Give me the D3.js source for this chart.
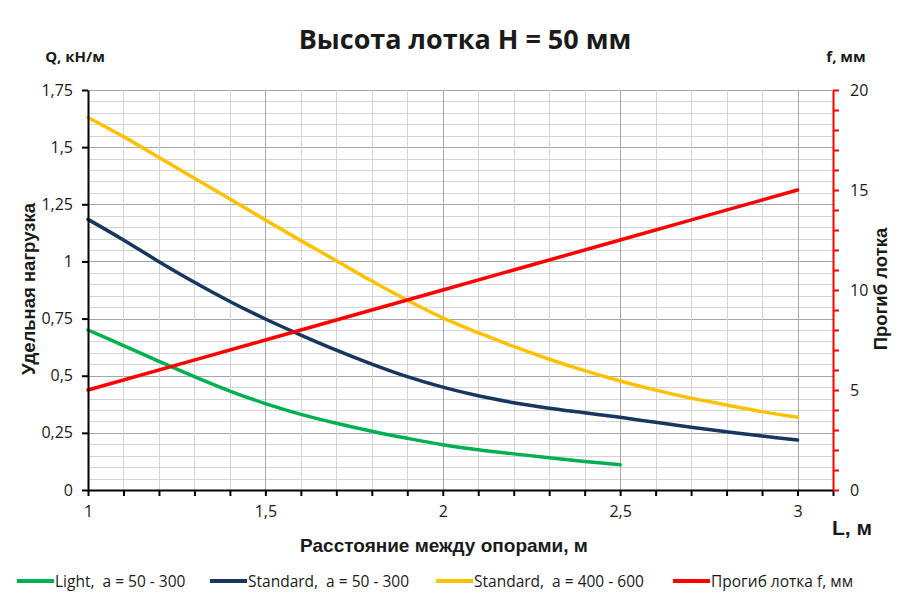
<!DOCTYPE html>
<html lang="ru">
<meta charset="utf-8" />
<style>
    body { margin: 0; background: #fff; }
    text { font-family: "Open Sans", "Liberation Sans", sans-serif; fill: #1a1a1a; }
    .bold { font-family: "Liberation Sans", Arial, sans-serif; font-weight: bold; }
    .grid line { stroke: #d4d4d4; stroke-width: 1px; }
    .grid line.major { stroke: #a6a6a6; }
    .axis path, .axis line { stroke: #000; stroke-width: 2px; }
    .axis.red path, .axis.red line { stroke: #ff0000; }
    .axis text { font-size: 16px; fill: #1a1a1a; font-family: "Open Sans", sans-serif; }
</style>
<body>
<svg width="900" height="604"></svg>
<script src="https://d3js.org/d3.v7.min.js"></script>
<script>
    // span between supports, m
    var spans = [1, 1.1, 1.2, 1.3, 1.4, 1.5, 1.6, 1.7, 1.8, 1.9, 2, 2.1, 2.2, 2.3, 2.4, 2.5, 2.6, 2.7, 2.8, 2.9, 3]
    // load Q, kN/m
    var lightQ = [0.70, 0.632, 0.563, 0.496, 0.433, 0.378, 0.331, 0.292, 0.257, 0.226, 0.198, 0.176, 0.158, 0.141, 0.125, 0.110]
    var std300Q = [1.184, 1.094, 0.999, 0.909, 0.825, 0.748, 0.678, 0.612, 0.551, 0.496, 0.450, 0.412, 0.382, 0.358, 0.338, 0.318, 0.296, 0.275, 0.255, 0.236, 0.219]
    var std600Q = [1.63, 1.546, 1.455, 1.364, 1.273, 1.181, 1.091, 1.003, 0.914, 0.830, 0.753, 0.688, 0.628, 0.572, 0.522, 0.477, 0.437, 0.402, 0.372, 0.343, 0.318]
    // deflection f, mm
    var deflSpans = [1, 1.5, 2, 2.5, 3]
    var deflF = [5, 7.5, 10, 12.5, 15]

    var legendNames = ["Light,  a = 50 - 300", "Standard,  a = 50 - 300", "Standard,  a = 400 - 600", "Прогиб лотка f, мм"]

    var svg = d3.select("svg")
    var pLeft = 88, pRight = 833, pTop = 90, pBottom = 490

    var x = d3.scaleLinear().domain([1, 3.1]).range([pLeft, pRight])
    var y = d3.scaleLinear().domain([0, 1.75]).range([pBottom, pTop])
    var yR = d3.scaleLinear().domain([0, 20]).range([pBottom, pTop])

    var comma = d => String(d).replace(".", ",")

    // grid
    var grid = svg.append("g").attr("class", "grid")
    var hVals = d3.range(1, 36).map(d => d * 0.05)
    grid.selectAll("line.h")
        .data(hVals)
        .enter()
        .append("line")
        .attr("class", (d, i) => (i + 1) % 5 == 0 ? "h major" : "h")
        .attr("x1", pLeft).attr("x2", pRight)
        .attr("y1", d => Math.round(y(d)) + 0.5)
        .attr("y2", d => Math.round(y(d)) + 0.5)
    var vVals = d3.range(11, 31).map(d => d / 10)
    grid.selectAll("line.v")
        .data(vVals)
        .enter()
        .append("line")
        .attr("class", (d, i) => (i + 11) % 5 == 0 ? "v major" : "v")
        .attr("y1", pTop).attr("y2", pBottom)
        .attr("x1", d => Math.round(x(d)) + 0.5)
        .attr("x2", d => Math.round(x(d)) + 0.5)

    // series
    var line = d3.line()
        .x(d => x(d[0]))
        .y(d => d[2](d[1]))
        .curve(d3.curveCatmullRom.alpha(0.5))

    var series = [
        { vals: lightQ, xs: spans, sc: y, color: "#00b050" },
        { vals: std300Q, xs: spans, sc: y, color: "#17375e" },
        { vals: std600Q, xs: spans, sc: y, color: "#ffc000" },
        { vals: deflF, xs: deflSpans, sc: yR, color: "#ff0000" }
    ]

    series.forEach(function(s) {
        svg.append("path")
            .attr("d", line(s.vals.map((v, i) => [s.xs[i], v, s.sc])))
            .attr("fill", "none")
            .attr("stroke", s.color)
            .attr("stroke-width", 3.5)
            .attr("stroke-linecap", "round")
    })

    // axes
    svg.append("g")
        .attr("class", "axis")
        .attr("transform", "translate(" + pLeft + ",0)")
        .call(d3.axisLeft(y).tickValues(d3.range(0, 8).map(d => d * 0.25)).tickFormat(comma).tickSize(6).tickSizeOuter(0).tickPadding(9))

    svg.append("g")
        .attr("class", "axis")
        .attr("transform", "translate(0," + pBottom + ")")
        .call(d3.axisBottom(x).tickValues(d3.range(10, 32).map(d => d / 10))
            .tickFormat(d => Math.round(d * 10) % 5 == 0 ? comma(d) : "")
            .tickSize(6).tickSizeOuter(0).tickPadding(10))

    svg.append("g")
        .attr("class", "axis red")
        .attr("transform", "translate(" + pRight + ",0)")
        .call(d3.axisRight(yR).tickValues(d3.range(0, 21)).tickFormat(d => d % 5 == 0 ? d : "").tickSize(6).tickSizeOuter(0).tickPadding(11))

    svg.selectAll(".axis .domain").attr("fill", "none")

    // titles
    svg.append("text")
        .attr("class", "bold")
        .attr("x", 465).attr("y", 49)
        .attr("text-anchor", "middle")
        .style("font-size", "27px")
        .style("font-family", "'Open Sans', sans-serif")
        .text("Высота лотка Н = 50 мм")

    svg.append("text")
        .attr("x", 75).attr("y", 62)
        .attr("text-anchor", "middle")
        .style("font-size", "15px")
        .style("font-weight", "bold")
        .text("Q, кН/м")

    svg.append("text")
        .attr("x", 846).attr("y", 62)
        .attr("text-anchor", "middle")
        .style("font-size", "15px")
        .style("font-weight", "bold")
        .text("f, мм")

    svg.append("text")
        .attr("class", "bold")
        .attr("transform", "translate(35,289) rotate(-90)")
        .attr("text-anchor", "middle")
        .style("font-size", "18.5px")
        .text("Удельная нагрузка")

    svg.append("text")
        .attr("class", "bold")
        .attr("transform", "translate(887,289) rotate(-90)")
        .attr("text-anchor", "middle")
        .style("font-size", "18.5px")
        .text("Прогиб лотка")

    svg.append("text")
        .attr("class", "bold")
        .attr("x", 444).attr("y", 552)
        .attr("text-anchor", "middle")
        .style("font-size", "19px")
        .text("Расстояние между опорами, м")

    svg.append("text")
        .attr("class", "bold")
        .attr("x", 852).attr("y", 535)
        .attr("text-anchor", "middle")
        .style("font-size", "21px")
        .text("L, м")

    // legend
    var legendX = [17, 210, 436, 673]
    var legend = svg.selectAll("g.legend")
        .data(legendNames)
        .enter()
        .append("g")
        .attr("class", "legend")
        .attr("transform", (d, i) => "translate(" + legendX[i] + ",581)")
    legend.append("line")
        .attr("x1", 0).attr("x2", 37)
        .attr("stroke", (d, i) => series[i].color)
        .attr("stroke-width", 4)
    legend.append("text")
        .attr("x", 38).attr("y", 5.5)
        .style("font-size", "15.5px")
        .style("white-space", "pre")
        .text(d => d)
</script>
</body>
</html>
